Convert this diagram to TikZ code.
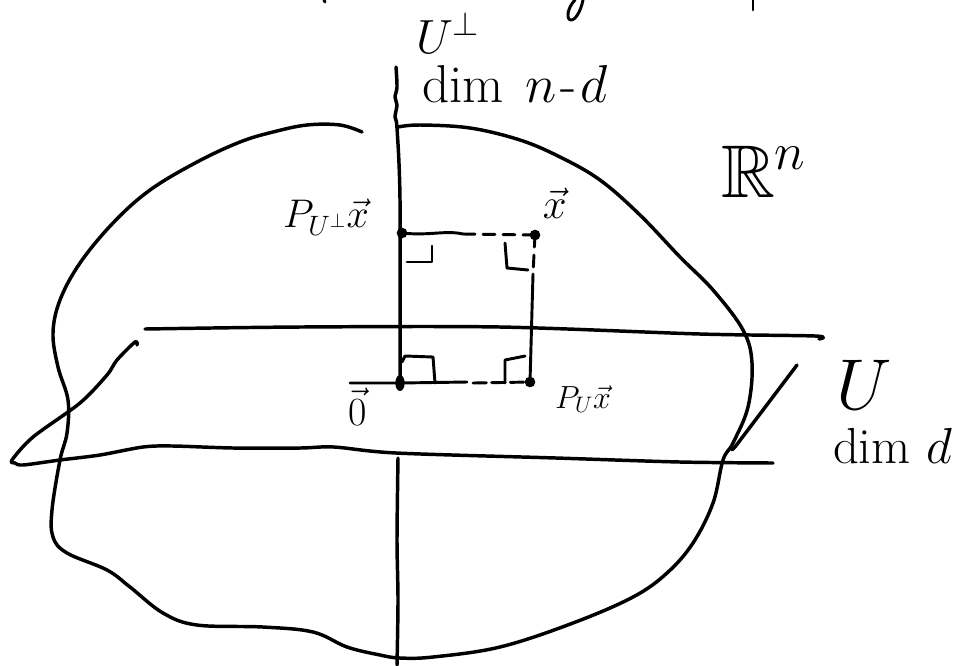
\RequirePackage{fix-cm}
\documentclass[tikz,border=0pt]{standalone}
\usepackage{amssymb}
\usetikzlibrary{shapes.geometric}
\tikzset{
  pen/.style={line width=2.6pt, line cap=round, line join=round},
  thinpen/.style={line width=2.2pt, line cap=round, line join=round},
  dot/.style={circle, fill, inner sep=0pt, minimum size=8pt},
  odot/.style={ellipse, fill, inner sep=0pt, minimum width=7pt, minimum height=12pt},
  hdash/.style={thinpen, dash pattern=on 9pt off 6pt},
  lbl/.style={inner sep=0pt, outer sep=0pt}
}
\newcommand{\fsz}[1]{\fontsize{#1}{#1}\selectfont}
\begin{document}
\begin{tikzpicture}[x=0.75pt,y=-0.75pt]
\useasboundingbox (0,0) rectangle (969,665);
\fill[white] (0,0) rectangle (969,665);

% fragments of text cut off at the top
\draw[thinpen] (324,0) -- (325,2);
\draw[thinpen] (575,0) .. controls (567,8) and (566,20) .. (571,20) .. controls (576,20) and (581,10) .. (583,0);
\draw[thinpen] (753,0) -- (753,10);

% the region R^n
\draw[pen] plot[smooth, tension=0.6] coordinates {
 (362,132) (340,125) (307,125) (273,132) (240,142) (197,162) (150,190) (113,223)
 (80,263) (60,300) (53,333) (58,367) (68,400) (67,433) (60,460) (52,510) (53,537)
 (67,553) (107,570) (130,587) (163,613) (197,625) (263,627) (313,632) (347,647)
 (380,655) (400,658) (433,657) (500,647) (573,623) (633,597) (667,573) (693,543)
 (713,503) (723,460) (733,443) (748,407) (752,363) (743,330)
 (713,290) (680,257) (640,215) (600,180) (560,157) (520,140) (470,128) (420,125) (398,127)};

% the plane U
\draw[pen] plot[smooth, tension=0.5] coordinates {(145,329) (300,327) (500,327) (700,334) (815,336) (819,339)};
\draw[pen] plot[smooth, tension=0.5] coordinates {(137,345) (135,342) (117,360) (107,375) (80,403) (33,437) (12,460)
 (15,463) (23,465) (60,460) (100,455) (143,447) (173,446) (233,448) (300,448) (334,447)
 (396,453) (556,458) (680,462) (773,463)};

% U-perp line
\draw[pen] plot[smooth, tension=0.5] coordinates {(396,67) (397,87) (395,97) (397,105) (395,117) (397,128) (400,200) (400,383)};
\draw[pen] plot[smooth] coordinates {(398,458) (397,540) (398,600) (397,665)};

% points
\node[dot] (pp) at (402,233) {};
\node[dot] (x) at (535,235) {};
\node[odot] (o) at (400,383) {};
\node[dot] (pu) at (530,382) {};
\coordinate (zl) at (350,383);
\coordinate (t1) at (463,234);
\coordinate (r1) at (533,274);
\coordinate (b1) at (467,382);
\coordinate (b2) at (473,383);

% projections
\draw[thinpen] (pp.center) .. controls (430,236) and (445,230) .. (t1);
\draw[hdash] (t1) -- (x.center);
\draw[hdash] (x.center) -- (r1);
\draw[thinpen] (r1) -- (pu.center);
\draw[thinpen] (zl) -- (o.center) -- (b1);
\draw[thinpen, dash pattern=on 10pt off 4pt] (b2) -- (pu.center);

% right-angle marks
\draw[thinpen] (407,262) -- (432,262) -- (432,246);
\draw[thinpen] (505,243) -- (507,268) -- (528,270);
\draw[thinpen] (402,362) -- (405,356) -- (433,357) -- (435,383);
\draw[thinpen] (505,383) -- (505,360) -- (525,356);

% pointer from U label
\draw[pen] (797,365) -- (735,447) -- (732,450);

% labels
\node[lbl, anchor=base west] (uperp) at (416,53) {\fsz{36}$U^{\perp}$};
\node[lbl, anchor=base west] (dimnd) at (422,102) {\fsz{40}dim\hspace{16pt}$n$\hspace{3pt}-\hspace{3pt}$d$};
\node[lbl, anchor=base west] (lpp) at (283,227) {\fsz{30}$P_{U^{\perp}}\vec{x}$};
\node[lbl, anchor=base west] (lx) at (543,218) {\fsz{32}$\vec{x}$};
\node[lbl, anchor=base west] (lrn) at (721,197) {\fsz{56}$\mathbb{R}^{n}$};
\node[lbl, anchor=base west] (lo) at (348,425) {\fsz{30}$\vec{0}$};
\node[lbl, anchor=base west] (lpu) at (555,408) {\fsz{24}$P_{U}\vec{x}$};
\node[lbl, anchor=base west] (lu) at (836,409) {\fsz{54}$U$};
\node[lbl, anchor=base west] (ldim) at (833,463) {\fsz{38}dim\hspace{12pt}$d$};
\end{tikzpicture}
\end{document}
